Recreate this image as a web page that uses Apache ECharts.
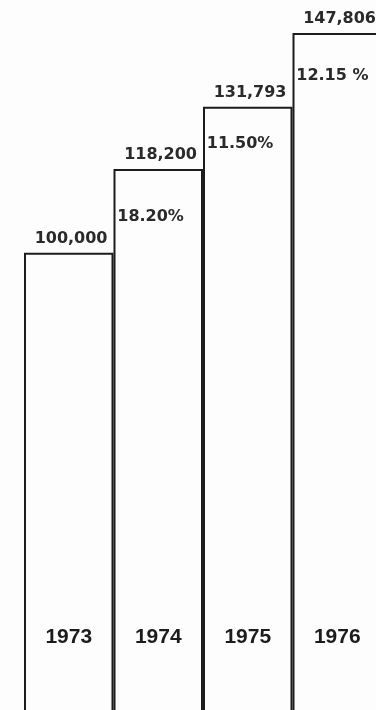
<!DOCTYPE html>
<html>
<head>
<meta charset="utf-8">
<script src="https://cdn.jsdelivr.net/npm/echarts@6/dist/echarts.min.js"></script>
<style>
  html, body { margin: 0; padding: 0; background: #fdfdfd; }
  #chart { width: 376px; height: 710px; }
</style>
</head>
<body>
<div id="chart"></div>
<script>
  // data
  var years = ['1973', '1974', '1975', '1976'];
  var totals = [100000, 118200, 131793, 147806];
  var growth = ['', '18.20%', '11.50%', '12.15 %'];

  var ink = '#1c1c1c';

  // growth labels sit half way up each step
  var stepPoints = [];
  for (var i = 1; i < years.length; i++) {
    stepPoints.push({ value: [years[i], (totals[i - 1] + totals[i]) / 2], name: growth[i] });
  }

  var chart = echarts.init(document.getElementById('chart'));
  var option = {
    backgroundColor: '#fdfdfd',
    animation: false,
    // plot runs a little past the right and bottom edges, like the scan
    grid: { left: 24, top: 23, width: 358, height: 689, outerBoundsMode: 'none' },
    xAxis: {
      type: 'category',
      data: years,
      axisLine: { show: false },
      axisTick: { show: false },
      axisLabel: {
        inside: true,
        margin: 64,
        color: ink,
        fontFamily: 'Liberation Sans',
        fontWeight: 'bold',
        fontSize: 21
      },
      z: 5
    },
    yAxis: {
      type: 'value',
      min: 0,
      max: 150000,
      show: false
    },
    series: [
      {
        type: 'bar',
        data: totals,
        barCategoryGap: 0,
        itemStyle: { color: 'rgba(0,0,0,0)', borderColor: ink, borderWidth: 2 },
        label: {
          show: true,
          position: ['100%', 0],
          align: 'right',
          verticalAlign: 'bottom',
          offset: [-6, -6],
          color: '#2a2a2a',
          fontFamily: 'DejaVu Sans',
          fontWeight: 'bold',
          fontSize: 16,
          formatter: function (p) { return p.value.toLocaleString('en-US'); }
        }
      },
      {
        type: 'scatter',
        data: stepPoints,
        symbolSize: 0,
        itemStyle: { opacity: 1 },
        label: {
          show: true,
          position: 'inside',
          align: 'left',
          verticalAlign: 'middle',
          offset: [-41, 6],
          color: '#2a2a2a',
          fontFamily: 'DejaVu Sans',
          fontWeight: 'bold',
          fontSize: 16,
          formatter: function (p) { return p.name; }
        }
      }
    ]
  };
  chart.setOption(option);
</script>
</body>
</html>
